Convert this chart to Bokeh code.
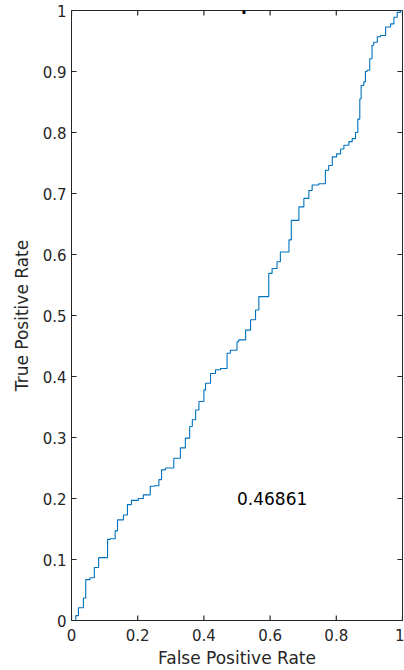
from bokeh.plotting import figure
from bokeh.models import Range1d, FixedTicker, PrintfTickFormatter, Label
from bokeh.embed import file_html
from bokeh.resources import INLINE

fpr = [0, 0.013, 0.021, 0.036, 0.043, 0.056, 0.069, 0.082, 0.097, 0.109, 0.117, 0.132, 0.139,
       0.157, 0.169, 0.181, 0.202, 0.217, 0.238, 0.251, 0.264, 0.272, 0.284, 0.309, 0.329,
       0.344, 0.357, 0.365, 0.375, 0.385, 0.4, 0.405, 0.42, 0.435, 0.45, 0.47, 0.48, 0.5,
       0.505, 0.526, 0.541, 0.556, 0.566, 0.581, 0.596, 0.606, 0.621, 0.631, 0.641, 0.657,
       0.664, 0.677, 0.687, 0.702, 0.717, 0.727, 0.747, 0.767, 0.777, 0.788, 0.801, 0.813,
       0.823, 0.838, 0.848, 0.858, 0.865, 0.871, 0.875, 0.883, 0.888, 0.893, 0.901, 0.908,
       0.913, 0.924, 0.934, 0.949, 0.964, 0.974, 0.984, 0.994, 1]
tpr = [0, 0, 0.008, 0.021, 0.037, 0.067, 0.07, 0.087, 0.103, 0.103, 0.133, 0.134, 0.147,
       0.165, 0.173, 0.19, 0.197, 0.2, 0.206, 0.22, 0.221, 0.231, 0.247, 0.25, 0.266,
       0.283, 0.299, 0.318, 0.329, 0.345, 0.359, 0.378, 0.389, 0.405, 0.411, 0.413, 0.438, 0.443,
       0.457, 0.46, 0.476, 0.493, 0.509, 0.531, 0.531, 0.569, 0.577, 0.588, 0.604, 0.604,
       0.624, 0.656, 0.656, 0.678, 0.692, 0.705, 0.714, 0.716, 0.738, 0.746, 0.76, 0.765,
       0.773, 0.779, 0.785, 0.79, 0.8, 0.822, 0.855, 0.877, 0.883, 0.9, 0.902, 0.921,
       0.943, 0.948, 0.957, 0.959, 0.973, 0.978, 0.989, 0.997, 1]

x_ticks = [0, 0.2, 0.4, 0.6, 0.8, 1]
y_ticks = [0, 0.1, 0.2, 0.3, 0.4, 0.5, 0.6, 0.7, 0.8, 0.9, 1]
auc_text = "0.46861"
title_text = "ROC plot"
side_text = "tion"

AX = "#262626"
FONT = "DejaVu Sans"
FRAME_W, FRAME_H = 331, 612
TICK_PX = 5
tick_dx = TICK_PX / FRAME_W   # tick length in data units along x
tick_dy = TICK_PX / FRAME_H   # tick length in data units along y

p = figure(width=404, height=670, output_backend="svg", toolbar_location=None,
           x_range=Range1d(0, 1), y_range=Range1d(0, 1),
           min_border_left=71, min_border_right=2, min_border_top=10, min_border_bottom=48,
           x_axis_label="False Positive Rate", y_axis_label="True Positive Rate")
p.xgrid.visible = False
p.ygrid.visible = False
p.outline_line_color = AX
p.outline_line_width = 1
p.background_fill_color = "white"
p.border_fill_color = "white"

for ax, ticks in ((p.xaxis[0], x_ticks), (p.yaxis[0], y_ticks)):
    ax.ticker = FixedTicker(ticks=ticks)
    ax.formatter = PrintfTickFormatter(format="%g")
    ax.major_tick_in = 0
    ax.major_tick_out = 0
    ax.minor_tick_line_color = None
    ax.axis_line_color = AX
    ax.major_tick_line_color = AX
    ax.major_label_text_color = AX
    ax.major_label_text_font = FONT
    ax.major_label_text_font_size = "15px"
    ax.axis_label_text_font = FONT
    ax.axis_label_text_font_size = "17px"
    ax.axis_label_text_font_style = "normal"
    ax.axis_label_text_color = AX

p.xaxis[0].major_label_standoff = 8
p.xaxis[0].axis_label_standoff = 4
p.yaxis[0].major_label_standoff = 5
p.yaxis[0].axis_label_standoff = 8

# inward tick marks on all four sides at the tick values
nx, ny = len(x_ticks), len(y_ticks)
p.segment(x0=x_ticks, y0=[0] * nx, x1=x_ticks, y1=[tick_dy] * nx, line_color=AX, line_width=1.2)
p.segment(x0=x_ticks, y0=[1] * nx, x1=x_ticks, y1=[1 - tick_dy] * nx, line_color=AX, line_width=1.2)
p.segment(x0=[0] * ny, y0=y_ticks, x1=[tick_dx] * ny, y1=y_ticks, line_color=AX, line_width=1.2)
p.segment(x0=[1] * ny, y0=y_ticks, x1=[1 - tick_dx] * ny, y1=y_ticks, line_color=AX, line_width=1.2)

p.step(fpr, tpr, mode="before", line_color="#0072BD", line_width=1.1)

p.add_layout(Label(x=0.5, y=0.2, text=auc_text, text_baseline="middle", text_align="left",
                   text_font=FONT, text_font_size="17px", text_color="black"))
p.add_layout(Label(x=0.5, y=1, y_offset=7, text=title_text, text_baseline="alphabetic",
                   text_align="center", text_font=FONT, text_font_size="17px",
                   text_font_style="bold", text_color="black"))
p.add_layout(Label(x=-0.13, y=1, y_offset=7, text=side_text, text_baseline="alphabetic",
                   text_align="right", text_font=FONT, text_font_size="17px",
                   text_font_style="bold", text_color="black"))

open("out.html", "w").write(file_html(p, INLINE))
